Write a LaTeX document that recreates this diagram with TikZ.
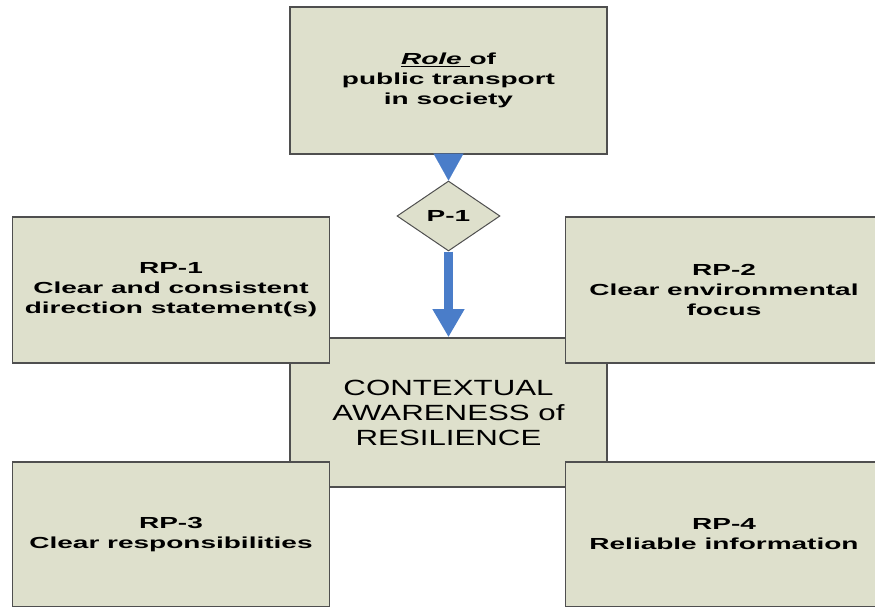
\documentclass[tikz,border=0pt]{standalone}
\usepackage{fontspec}
\setmainfont{Liberation Sans}
\newfontfamily\rpfont{Liberation Sans}[FakeStretch=1.75]
\newfontfamily\ctxfont{Liberation Sans}[FakeStretch=1.42]
\usetikzlibrary{arrows.meta,shapes.geometric}
\definecolor{boxfill}{HTML}{DEE0CC}
\definecolor{boxline}{HTML}{4F4F4F}
\definecolor{flowblue}{HTML}{4A7DC9}

\begin{document}
\begin{tikzpicture}[x=1pt,y=-1pt,
  card/.style={draw=boxline,fill=boxfill,line width=1.6pt,
    minimum width=317pt,minimum height=146pt,inner sep=0pt,align=center,
    font=\rpfont\bfseries\fontsize{16}{20}\selectfont},
  gate/.style={diamond,draw=boxline,fill=boxfill,line width=1pt,
    minimum width=103pt,minimum height=70pt,inner sep=0pt,
    font=\rpfont\bfseries\fontsize{16}{20}\selectfont},
  core/.style={card,minimum height=149pt,
    font=\ctxfont\fontsize{22}{25}\selectfont},
  wedge/.style={flowblue,line width=0.1pt,
    -{Triangle[length=27pt,width=30pt]}},
  flow/.style={flowblue,line width=9pt,
    -{Triangle[length=28pt,width=30pt]}}]
\useasboundingbox (0,0) rectangle (875,607);
\clip (0,0) rectangle (875,607);
% top box and principle
\node[card,minimum height=147pt] (role) at (448.5,80.5)
  {\underline{\itshape Role }of\\public transport\\in society};
\node[gate] (p1) at (448.5,216) {P-1};
% core box, then the four RP boxes over its corners
\node[core] (ctx) at (448.5,412.5) {CONTEXTUAL\\AWARENESS of\\RESILIENCE};
\node[card] (rp1) at (171,290) {RP-1\\Clear and consistent\\direction statement(s)};
\node[card] (rp2) at (724,290) {RP-2\\Clear environmental\\focus};
\node[card,minimum height=145pt] (rp3) at (171,534.5) {RP-3\\Clear responsibilities};
\node[card,minimum height=145pt] (rp4) at (724,534.5) {RP-4\\Reliable information};
% arrows
\draw[wedge] (role.south) -- (p1.north);
\draw[flow] (p1.south) -- (ctx.north);
\end{tikzpicture}
\end{document}
